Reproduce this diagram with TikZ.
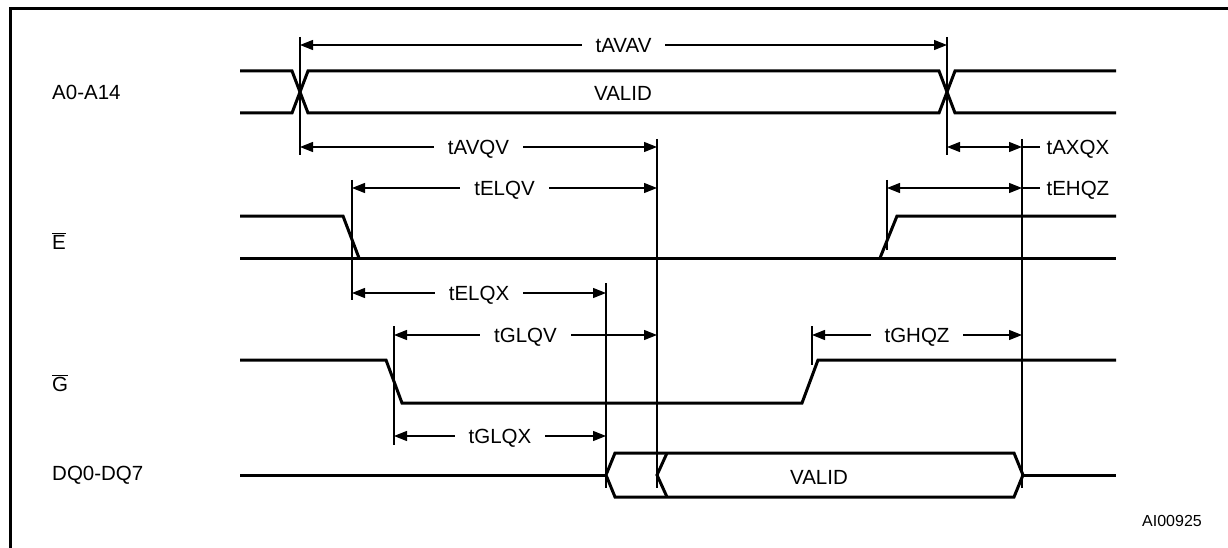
\documentclass[tikz,border=0pt]{standalone}
\usepackage{fontspec}
\setmainfont{Liberation Sans}
\usetikzlibrary{arrows.meta}

\tikzset{
  sig/.style={line width=3pt, line join=miter},
  refl/.style={line width=1.2pt},
  dim/.style={line width=1.2pt,
    {Triangle[length=13pt,width=10pt]}-{Triangle[length=13pt,width=10pt]}},
  tlabel/.style={fill=white, inner xsep=14pt, inner ysep=1pt,
    text height=15pt, text depth=0pt, font=\fontsize{20.5}{24}\selectfont},
  pinlabel/.style={anchor=west, inner sep=0pt,
    text height=15pt, text depth=0pt, font=\fontsize{20.5}{24}\selectfont},
  signame/.style={anchor=west, inner sep=0pt, font=\fontsize{20.5}{24}\selectfont}
}

\begin{document}
\begin{tikzpicture}[x=1pt, y=-1pt]
  \useasboundingbox (0,0) rectangle (1228,548);
  \draw[line width=3pt] (10,548) -- (10,9) -- (1228,9);

  % edges the times are taken from
  \coordinate (avl) at (300,0);
  \coordinate (avr) at (947,0);
  \coordinate (el) at (352,0);
  \coordinate (eh) at (887,0);
  \coordinate (gl) at (394,0);
  \coordinate (gh) at (812,0);
  \coordinate (qx) at (606,0);
  \coordinate (qv) at (657,0);
  \coordinate (qz) at (1022,0);

  \node[signame] (addr) at (52,92) {A0-A14};
  \node[signame] (ebar) at (52,241) {$\overline{\mbox{E}}$};
  \node[signame] (gbar) at (52,383) {$\overline{\mbox{G}}$};
  \node[signame] (data) at (52,475) {DQ0-DQ7};

  \draw[sig] (240,71) -- (292,71) -- (308,113) -- (939,113) -- (955,71) -- (1116,71);
  \draw[sig] (240,113) -- (292,113) -- (308,71) -- (939,71) -- (955,113) -- (1116,113);
  \node[tlabel, fill=none] (addrvalid) at (623,93) {VALID};

  \draw[sig] (240,216) -- (343,216) -- (359,258);
  \draw[sig] (240,258) -- (1116,258);
  \draw[sig] (880,258) -- (897,216) -- (1116,216);

  \draw[sig] (240,360) -- (386,360) -- (402,403) -- (802,403) -- (818,360) -- (1116,360);

  \draw[sig] (240,475) -- (606,475);
  \draw[sig] (606,475) -- (615,453) -- (1014,453) -- (1023,475)
    -- (1014,497) -- (615,497) -- cycle;
  \draw[sig] (667,453) -- (657,475) -- (667,497);
  \draw[sig] (1023,475) -- (1116,475);
  \node[tlabel, fill=none] (datavalid) at (819,477) {VALID};

  \draw[refl] (avl |- 0,37) -- (avl |- 0,155);
  \draw[refl] (avr |- 0,37) -- (avr |- 0,155);
  \draw[refl] (el |- 0,180) -- (el |- 0,300);
  \draw[refl] (eh |- 0,180) -- (eh |- 0,250);
  \draw[refl] (gl |- 0,326) -- (gl |- 0,445);
  \draw[refl] (gh |- 0,326) -- (gh |- 0,365);
  \draw[refl] (qx |- 0,283) -- (qx |- 0,488);
  \draw[refl] (qv |- 0,139) -- (qv |- 0,488);
  \draw[refl] (qz |- 0,139) -- (qz |- 0,488);

  \draw[dim] (avl |- 0,45) -- node[tlabel] (tavav) {tAVAV} (avr |- 0,45);
  \draw[dim] (avl |- 0,147) -- node[tlabel] (tavqv) {tAVQV} (qv |- 0,147);
  \draw[dim] (avr |- 0,147) -- (qz |- 0,147);
  \draw[refl] (qz |- 0,147) -- (1040,147) node[pinlabel, xshift=6pt] (taxqx) {tAXQX};
  \draw[dim] (el |- 0,188) -- node[tlabel] (telqv) {tELQV} (qv |- 0,188);
  \draw[dim] (eh |- 0,188) -- (qz |- 0,188);
  \draw[refl] (qz |- 0,188) -- (1040,188) node[pinlabel, xshift=6pt] (tehqz) {tEHQZ};
  \draw[dim] (el |- 0,293) -- node[tlabel] (telqx) {tELQX} (qx |- 0,293);
  \draw[dim] (gl |- 0,335) -- node[tlabel] (tglqv) {tGLQV} (qv |- 0,335);
  \draw[dim] (gh |- 0,335) -- node[tlabel] (tghqz) {tGHQZ} (qz |- 0,335);
  \draw[dim] (gl |- 0,436) -- node[tlabel] (tglqx) {tGLQX} (qx |- 0,436);

  \node[font=\fontsize{16}{19}\selectfont] (figid) at (1172,521) {AI00925};
\end{tikzpicture}
\end{document}
